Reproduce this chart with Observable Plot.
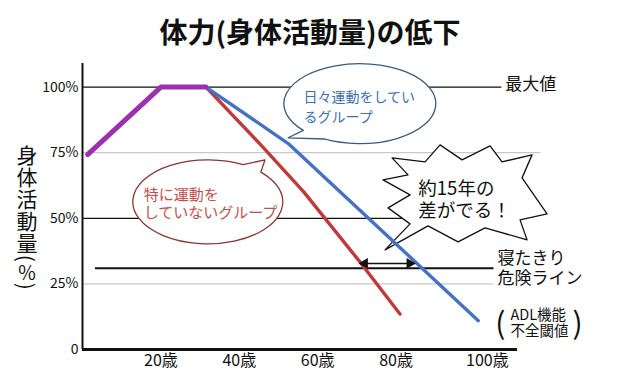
<!DOCTYPE html>
<html><head><meta charset="utf-8">
<script src="https://cdn.jsdelivr.net/npm/d3@7"></script>
<script src="https://cdn.jsdelivr.net/npm/@observablehq/plot@0.6"></script>
<style>
body{margin:0;background:#fff;width:620px;height:379px;overflow:hidden;font-family:"Noto Sans CJK JP",sans-serif;}
#title{height:42px;padding-top:10px;line-height:42px;text-align:center;font-size:28px;font-weight:bold;color:#111;}
#chart svg{display:block;}
</style></head><body>
<div id="title"></div>
<div id="chart"></div>
<script>
// ---- data ----
const titleText = "体力(身体活動量)の低下";
const yTicks = [0, 25, 50, 75, 100];
const yTickLabels = ["0", "25%", "50%", "75%", "100%"];
const xTicks = [20, 40, 60, 80];
const xTickLabels = ["20歳", "40歳", "60歳", "80歳"];
const xLastTick = [100];
const xLastTickLabel = ["100歳"];
const youthAges = [1.3, 20, 31.5];
const youthValues = [74.3, 100, 100];
const activeAges = [31.5, 52.5, 101];
const activeValues = [100, 78.5, 11];
const inactiveAges = [31.5, 45.5, 56.5, 71, 81];
const inactiveValues = [100, 78, 60, 33, 13.5];
const dangerValue = [31];
const gapAges = [71, 84.5];
const gapValue = 32.8;
const blackGrid = [100, 50];
const grayGridUpper = [75];
const grayGridLower = [25];
const yTitleMain = "身体活動量";
const yTitleUnit = "％";
const labelMax = ["最大値"];
const labelDanger = ["寝たきり\n危険ライン"];
const labelAdl = ["ADL機能\n不全閾値"];
const labelActive = ["日々運動をしてい\nるグループ"];
const labelInactive = ["特に運動を\nしていないグループ"];
const labelGap = ["約15年の\n差がでる！"];

document.getElementById("title").textContent = titleText;

const youth = youthAges.map((a, i) => ({age: a, v: youthValues[i]}));
const active = activeAges.map((a, i) => ({age: a, v: activeValues[i]}));
const inactive = inactiveAges.map((a, i) => ({age: a, v: inactiveValues[i]}));

const FONT = '"Noto Sans CJK JP", sans-serif';

function getScales(scales, dim) {
  let X = scales.x, Y = scales.y;
  if (typeof X !== "function" || typeof Y !== "function") {
    X = d3.scaleLinear([0, 111], [dim.marginLeft, dim.width - dim.marginRight]);
    Y = d3.scaleLinear([0, 109], [dim.height - dim.marginBottom, dim.marginTop]);
  }
  return [X, Y];
}

// callout shapes drawn through the plot's scales
function callouts(index, scales, values, dim) {
  const [X, Y] = getScales(scales, dim);
  const g = d3.create("svg:g");
  const bubble = (c, rx, ry, a1, a2, tip, stroke) => {
    const cx = X(c[0]), cy = Y(c[1]);
    const P = a => [cx + rx * Math.cos(a * Math.PI / 180), cy + ry * Math.sin(a * Math.PI / 180)];
    const p1 = P(a1), p2 = P(a2), t = [X(tip[0]), Y(tip[1])];
    g.append("path")
      .attr("d", `M${p2}A${rx},${ry} 0 1 1 ${p1}L${t}Z`)
      .attr("fill", "white").attr("stroke", stroke).attr("stroke-width", 1.3)
      .attr("stroke-linejoin", "round");
  };
  bubble([70.9, 93.5], 76, 40, 118, 138, [52.6, 80.5], "#3d5a78");
  bubble([32.1, 56.1], 75, 42, -62, -45, [46.7, 72.1], "#8a3535");
  // explosion callout
  const ex = X(98), ey = Y(59.5);
  const spikes = [[-74,-35],[-41,-31],[-26,-48],[-4,-33],[24,-47],[36,-31],[66,-38],[56,-15],
                  [81,21],[54,27],[61,47],[19,35],[-8,49],[-38,33],[-81,57],[-56,31],[-78,15],
                  [-56,2],[-83,-13],[-58,-18]];
  g.append("path")
    .attr("d", d3.line().curve(d3.curveLinearClosed)(spikes.map(([dx, dy]) => [ex + dx, ey + dy])))
    .attr("fill", "white").attr("stroke", "#111").attr("stroke-width", 1.3)
    .attr("stroke-linejoin", "round");
  return g.node();
}

// vertical y-axis title
function yTitle(index, scales, values, dim) {
  const [X, Y] = getScales(scales, dim);
  const t = d3.create("svg:text")
    .attr("x", X(0) - 55).attr("y", Y(50) - 73)
    .attr("writing-mode", "vertical-rl")
    .style("writing-mode", "vertical-rl")
    .attr("text-anchor", "start")
    .style("text-anchor", "start")
    .attr("font-size", 21).attr("letter-spacing", 1)
    .attr("font-family", FONT).attr("fill", "#111");
  t.append("tspan").text(yTitleMain);
  t.append("tspan").text("(");
  t.append("tspan").attr("font-size", 19).text(yTitleUnit);
  t.append("tspan").text(")");
  return t.node();
}

const plot = Plot.plot({
  width: 620,
  height: 327,
  marginTop: 11,
  marginRight: 103,
  marginBottom: 30,
  marginLeft: 82,
  x: {domain: [0, 111]},
  y: {domain: [0, 109]},
  style: {fontFamily: FONT, color: "#111", background: "white"},
  marks: [
    // grid
    Plot.ruleY(grayGridUpper, {x1: 0, x2: 117, stroke: "#c8c8c8", strokeWidth: 1.2}),
    Plot.ruleY(grayGridLower, {x1: 0, x2: 105, stroke: "#c8c8c8", strokeWidth: 1.2}),
    Plot.ruleY(blackGrid, {x1: 0, x2: 107, stroke: "#111", strokeWidth: 1.3}),
    Plot.ruleY(dangerValue, {x1: 3.3, x2: 105, stroke: "#111", strokeWidth: 2}),
    // axes
    Plot.ruleX([0], {y1: 0, y2: 109, stroke: "#111", strokeWidth: 2}),
    Plot.ruleY([0], {x1: 0, x2: 111, stroke: "#111", strokeWidth: 3}),
    Plot.axisY({ticks: yTicks, tickFormat: d => yTickLabels[yTicks.indexOf(d)], tickSize: 0, tickPadding: 4, fontSize: 14, label: null}),
    Plot.axisX({ticks: xTicks, tickFormat: d => xTickLabels[xTicks.indexOf(d)], tickSize: 0, tickPadding: 5, fontSize: 16, label: null}),
    Plot.axisX({ticks: xLastTick, tickFormat: d => xLastTickLabel[xLastTick.indexOf(d)], tickSize: 0, tickPadding: 5, fontSize: 16, dx: 13, label: null}),
    yTitle,
    // callouts
    callouts,
    Plot.text(labelActive, {x: 56.4, y: 93.1, text: d => d, textAnchor: "start", fontSize: 14, lineHeight: 1.43, fill: "#3b6fb0"}),
    Plot.text(labelInactive, {x: 15.6, y: 55.7, text: d => d, textAnchor: "start", fontSize: 15, lineHeight: 1.2, fill: "#c0504d"}),
    Plot.text(labelGap, {x: 85.7, y: 57.3, text: d => d, textAnchor: "start", fontSize: 18.5, lineHeight: 1.2, fill: "#111"}),
    // data lines
    Plot.line(inactive, {x: "age", y: "v", stroke: "#c0393b", strokeWidth: 3.4, strokeLinejoin: "round"}),
    Plot.line(active, {x: "age", y: "v", stroke: "#4472c4", strokeWidth: 3.4, strokeLinejoin: "round"}),
    Plot.line(youth, {x: "age", y: "v", stroke: "#9b30b0", strokeWidth: 5, strokeLinejoin: "round"}),
    // gap arrow
    Plot.ruleY([gapValue], {x1: gapAges[0], x2: gapAges[1], stroke: "#111", strokeWidth: 1.6}),
    Plot.dot([gapAges[0]], {x: d => d, y: gapValue, symbol: "triangle", r: 4, fill: "#111", stroke: null, rotate: -90, dx: 4}),
    Plot.dot([gapAges[1]], {x: d => d, y: gapValue, symbol: "triangle", r: 4, fill: "#111", stroke: null, rotate: 90, dx: -4}),
    // right-side labels
    Plot.text(labelMax, {x: 107.9, y: 100.8, text: d => d, textAnchor: "start", fontSize: 17}),
    Plot.text(labelDanger, {x: 105.9, y: 31.1, text: d => d, textAnchor: "start", fontSize: 17, lineHeight: 1.13}),
    Plot.text(labelAdl, {x: 109.2, y: 10.1, text: d => d, textAnchor: "start", fontSize: 14.5, lineHeight: 1.06}),
    Plot.text(["("], {x: 106.6, y: 9.6, text: d => d, textAnchor: "middle", fontSize: 30}),
    Plot.text([")"], {x: 126.3, y: 9.6, text: d => d, textAnchor: "middle", fontSize: 30})
  ]
});
document.getElementById("chart").appendChild(plot);
</script>
</body></html>
